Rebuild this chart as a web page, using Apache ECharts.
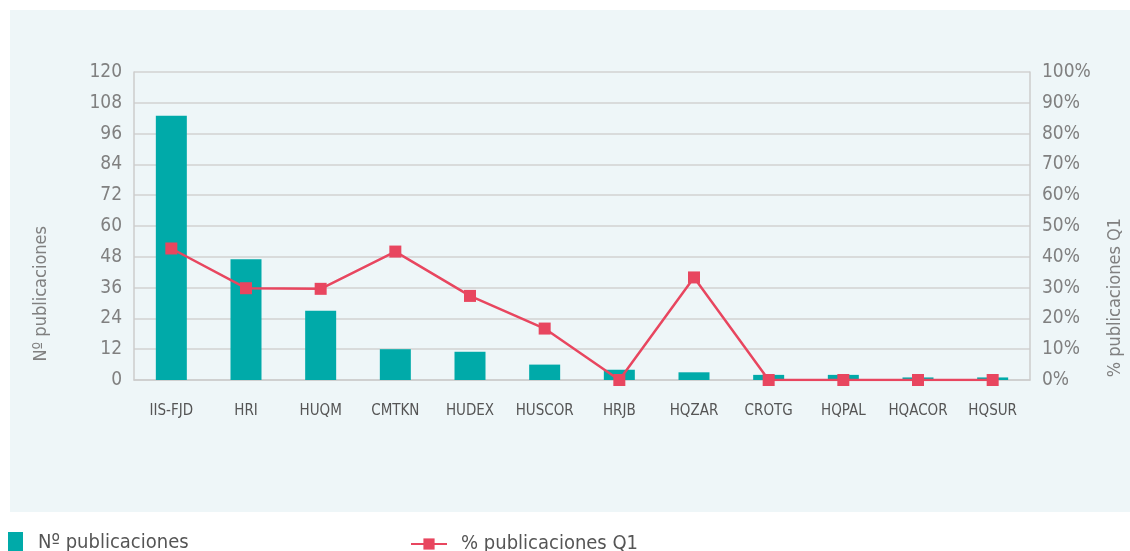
<!DOCTYPE html>
<html>
<head>
<meta charset="utf-8">
<script src="https://cdn.jsdelivr.net/npm/echarts@6/dist/echarts.min.js"></script>
<style>
  html, body { margin: 0; padding: 0; background: #ffffff; }
  #panel { position: absolute; left: 10px; top: 10px; width: 1120px; height: 502px; background: #eef6f8; }
  #chart { position: absolute; left: 0; top: 0; width: 1130px; height: 551px; }
</style>
</head>
<body>
<div id="panel"></div>
<div id="chart"></div>
<script>
var categories = ['IIS-FJD', 'HRI', 'HUQM', 'CMTKN', 'HUDEX', 'HUSCOR', 'HRJB', 'HQZAR', 'CROTG', 'HQPAL', 'HQACOR', 'HQSUR'];
var publicaciones = [103, 47, 27, 12, 11, 6, 4, 3, 2, 2, 1, 1];
var pctQ1 = [42.7, 29.8, 29.6, 41.7, 27.3, 16.7, 0, 33.3, 0, 0, 0, 0];
var leftTicks = [0, 12, 24, 36, 48, 60, 72, 84, 96, 108, 120];
var rightTicks = [0, 10, 20, 30, 40, 50, 60, 70, 80, 90, 100];

var font = "'Liberation Sans Narrow', 'DejaVu Sans Condensed', sans-serif";
var teal = '#00aaa9';
var red = '#e8465f';

var chart = echarts.init(document.getElementById('chart'));

var option = {
    backgroundColor: 'transparent',
    textStyle: { fontFamily: font },
    grid: { left: 134, right: 100, top: 72, bottom: 171 },
    legend: [
        {
            left: 3, top: 527,
            itemWidth: 15, itemHeight: 21,
            textStyle: { fontSize: 20, color: '#555', fontFamily: font, padding: [0, 0, 0, 10] },
            data: [{ name: 'Nº publicaciones', icon: 'rect' }]
        },
        {
            left: 405, top: 529,
            itemWidth: 36, itemHeight: 14,
            textStyle: { fontSize: 20, color: '#555', fontFamily: font, padding: [0, 0, 0, 9] },
            data: ['% publicaciones Q1']
        }
    ],
    xAxis: {
        type: 'category',
        data: categories,
        axisLine: { lineStyle: { color: '#cccccc', width: 1.5 } },
        axisTick: { show: false },
        axisLabel: { color: '#555', fontSize: 15, margin: 24, interval: 0, fontFamily: font }
    },
    yAxis: [
        {
            type: 'value',
            min: leftTicks[0], max: leftTicks[leftTicks.length - 1], interval: 12,
            axisLine: { show: true, lineStyle: { color: '#cccccc', width: 1.5 } },
            axisTick: { show: false },
            splitLine: { lineStyle: { color: '#d2d2d2', width: 1.5 } },
            axisLabel: { color: '#808080', fontSize: 19, margin: 12, fontFamily: font }
        },
        {
            type: 'value',
            min: rightTicks[0], max: rightTicks[rightTicks.length - 1], interval: 10,
            axisLine: { show: true, lineStyle: { color: '#cccccc', width: 1.5 } },
            axisTick: { show: false },
            splitLine: { show: false },
            axisLabel: { color: '#808080', fontSize: 19, margin: 12, formatter: '{value}%', fontFamily: font }
        }
    ],
    graphic: [
        {
            type: 'text', left: 32, top: 226, rotation: Math.PI / 2,
            style: { text: 'Nº publicaciones', fill: '#808080', fontSize: 18, fontFamily: font }
        },
        {
            type: 'text', left: 1106, top: 218, rotation: Math.PI / 2,
            style: { text: '% publicaciones Q1', fill: '#808080', fontSize: 18, fontFamily: font }
        }
    ],
    series: [
        {
            name: 'Nº publicaciones',
            type: 'bar',
            yAxisIndex: 0,
            barWidth: 31,
            itemStyle: { color: teal },
            data: publicaciones
        },
        {
            name: '% publicaciones Q1',
            type: 'line',
            yAxisIndex: 1,
            symbol: 'rect',
            symbolSize: 12,
            lineStyle: { color: red, width: 2.5 },
            itemStyle: { color: red },
            data: pctQ1
        }
    ]
};

chart.setOption(option);
</script>
</body>
</html>
